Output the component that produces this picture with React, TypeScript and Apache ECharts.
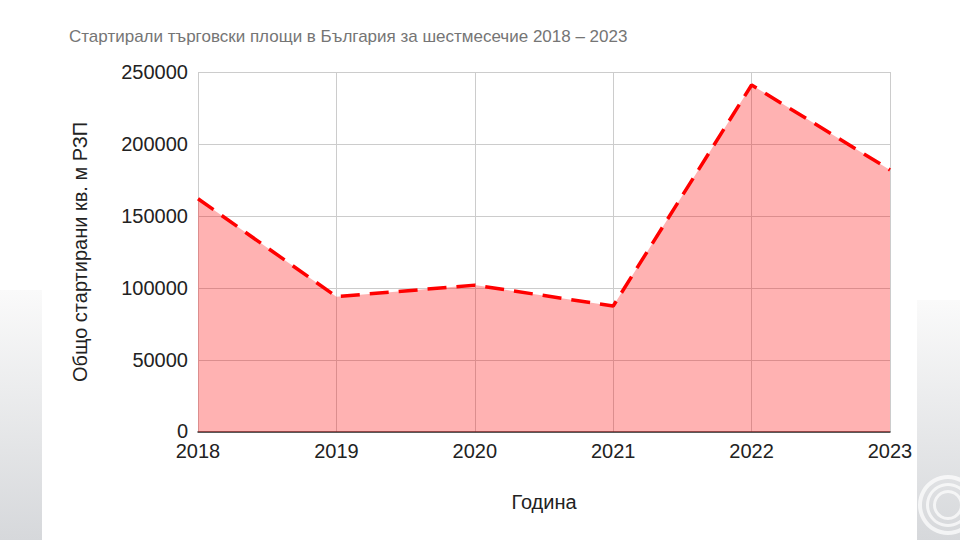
import React, { useEffect, useRef } from "react";
import * as echarts from "echarts";

const years = ["2018", "2019", "2020", "2021", "2022", "2023"];
const startedArea = [162000, 94000, 102000, 87500, 241000, 182000];
const yTicks = [0, 50000, 100000, 150000, 200000, 250000];

const titleText = "Стартирали търговски площи в България за шестмесечие 2018 – 2023";
const yName = "Общо стартирани кв. м РЗП";
const xName = "Година";

export default function App() {
  const ref = useRef<HTMLDivElement>(null);
  useEffect(() => {
    if (!ref.current) return;
    const chart = echarts.init(ref.current, null, { renderer: "svg" });
    const bandGrad = new echarts.graphic.LinearGradient(0, 0, 0, 1, [
      { offset: 0, color: "#fafafa" },
      { offset: 1, color: "#d6d8db" },
    ]);
    chart.setOption({
      animation: false,
      backgroundColor: "#ffffff",
      textStyle: { fontFamily: "Liberation Sans, Arial, sans-serif" },
      title: {
        text: titleText,
        left: 64,
        top: 23,
        textStyle: { fontSize: 17, color: "#757575", fontWeight: "normal", fontFamily: "Liberation Sans, Arial, sans-serif" },
      },
      graphic: [
        { type: "rect", left: 0, top: 290, shape: { width: 42, height: 250 }, style: { fill: bandGrad }, z: -10 },
        { type: "rect", left: 917, top: 300, shape: { width: 43, height: 240 }, style: { fill: bandGrad }, z: -10 },
        { type: "ring", x: 948, y: 505, shape: { r: 30, r0: 26 }, style: { fill: "#ffffff", opacity: 0.7 }, z: -9 },
        { type: "ring", x: 948, y: 505, shape: { r: 22, r0: 19 }, style: { fill: "#ffffff", opacity: 0.7 }, z: -9 },
        { type: "ring", x: 948, y: 505, shape: { r: 15, r0: 12 }, style: { fill: "#ffffff", opacity: 0.7 }, z: -9 },
      ],
      grid: { left: 198, right: 70, top: 72, bottom: 108, containLabel: false },
      xAxis: {
        type: "category",
        data: years,
        boundaryGap: false,
        name: xName,
        nameLocation: "middle",
        nameGap: 60,
        nameTextStyle: { fontSize: 20, color: "#222" },
        axisLine: { show: true, lineStyle: { color: "#333", width: 1.5 } },
        axisTick: { show: false },
        axisLabel: { fontSize: 20, color: "#222", margin: 10, lineHeight: 18 },
        splitLine: { show: true, lineStyle: { color: "#cccccc", width: 1 } },
      },
      yAxis: {
        type: "value",
        min: 0,
        max: 250000,
        interval: 50000,
        name: yName,
        nameLocation: "middle",
        nameGap: 108,
        nameRotate: 90,
        nameTextStyle: { fontSize: 20, color: "#222" },
        axisLine: { show: false },
        axisTick: { show: false },
        axisLabel: {
          fontSize: 20,
          color: "#222",
          margin: 10,
          lineHeight: 16,
          formatter: (v: number) => (yTicks.includes(v) ? (v === 0 ? "{z|0}" : String(v)) : ""),
          rich: { z: { fontSize: 20, color: "#222", lineHeight: 16, padding: [0, 0, 3, 0] } },
        },
        splitLine: { show: true, lineStyle: { color: "#cccccc", width: 1 } },
      },
      series: [
        {
          type: "line",
          data: startedArea,
          symbol: "none",
          lineStyle: { color: "#ff0000", width: 3.5, type: [19, 10] },
          areaStyle: { color: "#ff0000", opacity: 0.3 },
        },
      ],
    });
    return () => chart.dispose();
  }, []);
  return <div ref={ref} style={{ width: 960, height: 540, position: "absolute", left: 0, top: 0 }} />;
}
